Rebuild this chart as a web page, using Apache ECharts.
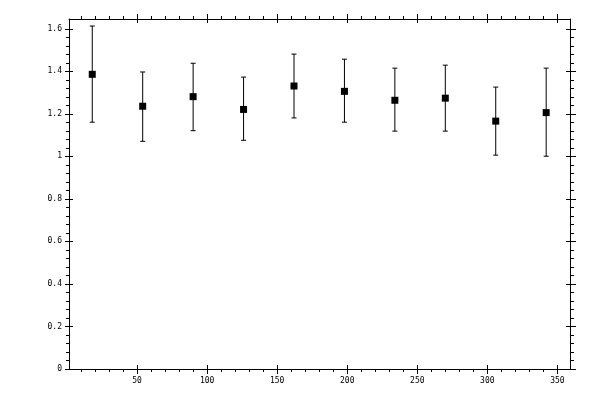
<!DOCTYPE html>
<html>
<head>
<meta charset="utf-8">
<script src="https://cdn.jsdelivr.net/npm/echarts@6/dist/echarts.min.js"></script>
<style>
  html, body { margin: 0; padding: 0; background: #fff; }
  #chart { width: 600px; height: 400px; }
</style>
</head>
<body>
<div id="chart"></div>
<script>
// 数据：每个角度区间的中心、平均值和误差范围
const xVals = [18, 54, 90, 126, 162, 198, 234, 270, 306, 342];
const yVals = [1.385, 1.235, 1.28, 1.22, 1.33, 1.305, 1.263, 1.273, 1.165, 1.205];
const yLow = [1.16, 1.07, 1.12, 1.075, 1.18, 1.16, 1.118, 1.118, 1.005, 1.0];
const yHigh = [1.612, 1.396, 1.437, 1.372, 1.48, 1.456, 1.414, 1.428, 1.325, 1.414];

// 刻度
const xMajor = [50, 100, 150, 200, 250, 300, 350];
const xMinor = [10, 20, 30, 40, 60, 70, 80, 90, 110, 120, 130, 140, 160, 170, 180,
  190, 210, 220, 230, 240, 260, 270, 280, 290, 310, 320, 330, 340];
const yMajor = [0, 0.2, 0.4, 0.6, 0.8, 1, 1.2, 1.4, 1.6];
const yMinor = [0.04, 0.08, 0.12, 0.16, 0.24, 0.28, 0.32, 0.36, 0.44, 0.48, 0.52, 0.56,
  0.64, 0.68, 0.72, 0.76, 0.84, 0.88, 0.92, 0.96, 1.04, 1.08, 1.12, 1.16, 1.24,
  1.28, 1.32, 1.36, 1.44, 1.48, 1.52, 1.56];

const X_MIN = 1.4, X_MAX = 359;
const Y_MIN = 0, Y_MAX = 1.645;

const labelFont = { fontFamily: 'DejaVu Sans Mono', fontSize: 8, color: '#000' };

// 坐标轴：只画轴线和标签，刻度由下面的自定义系列画
function makeAxis(kind, position, labels) {
  const isX = kind === 'x';
  return {
    type: 'value',
    position: position,
    min: isX ? X_MIN : Y_MIN,
    max: isX ? X_MAX : Y_MAX,
    axisLine: { show: true, onZero: false, lineStyle: { color: '#000', width: 1 } },
    axisTick: { show: false },
    axisLabel: labels ? Object.assign({
      customValues: labels,
      margin: isX ? 8 : 7,
      formatter: v => String(+(+v).toFixed(1))
    }, labelFont) : { show: false },
    splitLine: { show: false }
  };
}

// 画一条竖直或水平的短线
function seg(x1, y1, x2, y2) {
  return {
    type: 'line',
    shape: { x1: x1, y1: y1, x2: x2, y2: y2 },
    style: { stroke: '#000', lineWidth: 1 }
  };
}

// 四条边上的刻度（主刻度跨轴线，次刻度朝外）
function renderTicks(params, api) {
  const kids = [];
  xMinor.forEach(v => {
    const b = api.coord([v, Y_MIN]);
    const t = api.coord([v, Y_MAX]);
    const x = Math.round(b[0]) + 0.5;
    kids.push(seg(x, b[1], x, b[1] + 3));
    kids.push(seg(x, t[1], x, t[1] - 3));
  });
  xMajor.forEach(v => {
    const b = api.coord([v, Y_MIN]);
    const t = api.coord([v, Y_MAX]);
    const x = Math.round(b[0]) + 0.5;
    kids.push(seg(x, b[1] - 4, x, b[1] + 5));
    kids.push(seg(x, t[1] - 5, x, t[1] + 4));
  });
  yMinor.forEach(v => {
    const l = api.coord([X_MIN, v]);
    const r = api.coord([X_MAX, v]);
    const y = Math.round(l[1]) + 0.5;
    kids.push(seg(l[0] - 3, y, l[0], y));
    kids.push(seg(r[0], y, r[0] + 4, y));
  });
  yMajor.forEach(v => {
    const l = api.coord([X_MIN, v]);
    const r = api.coord([X_MAX, v]);
    const y = Math.round(l[1]) + 0.5;
    kids.push(seg(l[0] - 4, y, l[0] + 4, y));
    kids.push(seg(r[0] - 4, y, r[0] + 6, y));
  });
  return { type: 'group', children: kids };
}

const chart = echarts.init(document.getElementById('chart'));

chart.setOption({
  animation: false,
  backgroundColor: '#fff',
  grid: { left: 69, right: 30, top: 19, bottom: 31, containLabel: false },
  xAxis: [
    makeAxis('x', 'bottom', xMajor),
    makeAxis('x', 'top', null)
  ],
  yAxis: [
    makeAxis('y', 'left', yMajor),
    makeAxis('y', 'right', null)
  ],
  series: [
    {
      // 刻度线
      type: 'custom',
      xAxisIndex: 0,
      yAxisIndex: 0,
      silent: true,
      clip: false,
      data: [[180, 0.8]],
      encode: { x: 0, y: 1 },
      renderItem: renderTicks,
      z: 1
    },
    {
      // 误差线
      type: 'custom',
      xAxisIndex: 0,
      yAxisIndex: 0,
      data: xVals.map((x, i) => [x, yLow[i], yHigh[i]]),
      encode: { x: 0, y: [1, 2] },
      renderItem: (params, api) => {
        const x = api.value(0);
        const lo = api.coord([x, api.value(1)]);
        const hi = api.coord([x, api.value(2)]);
        const hw = 2.5;
        return {
          type: 'group',
          children: [
            seg(hi[0], hi[1], lo[0], lo[1]),
            seg(hi[0] - hw, hi[1], hi[0] + hw, hi[1]),
            seg(lo[0] - hw, lo[1], lo[0] + hw, lo[1])
          ]
        };
      },
      z: 2
    },
    {
      // 平均值方块
      type: 'scatter',
      xAxisIndex: 0,
      yAxisIndex: 0,
      symbol: 'rect',
      symbolSize: 7,
      itemStyle: { color: '#000', opacity: 1 },
      data: xVals.map((x, i) => [x, yVals[i]]),
      z: 3
    }
  ]
});
</script>
</body>
</html>
